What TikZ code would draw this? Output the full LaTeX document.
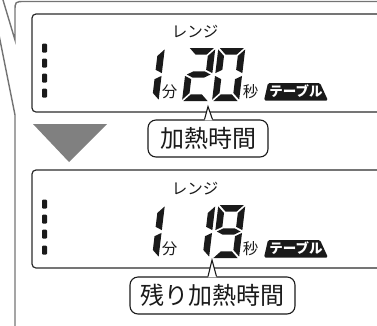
\documentclass[tikz,border=0pt]{standalone}
\usepackage{fontspec}
\newfontfamily\jp{Noto Sans CJK JP}
\usetikzlibrary{calc}
\definecolor{framegray}{HTML}{747474}
\definecolor{trigray}{HTML}{808080}
\definecolor{lcdline}{HTML}{2B2B2B}
\definecolor{ink}{HTML}{1A1A1A}
\newcommand\sga{\fill (1.4,53) -- (25.6,53) -- (19,46.4) -- (8,46.4) -- cycle;}
\newcommand\sgb{\fill (27,51.6) -- (27,27.9) -- (20.4,31.2) -- (20.4,45) -- cycle;}
\newcommand\sgc{\fill (27,1.4) -- (27,25.1) -- (20.4,21.8) -- (20.4,8) -- cycle;}
\newcommand\sgd{\fill (1.4,0) -- (25.6,0) -- (19,6.6) -- (8,6.6) -- cycle;}
\newcommand\sge{\fill (0,1.4) -- (0,25.1) -- (6.6,21.8) -- (6.6,8) -- cycle;}
\newcommand\sgf{\fill (0,51.6) -- (0,27.9) -- (6.6,31.2) -- (6.6,45) -- cycle;}
\newcommand\sgg{\fill (1.6,26.5) -- (8,29.7) -- (19,29.7) -- (25.4,26.5) -- (19,23.3) -- (8,23.3) -- cycle;}
\newcommand\lcddigit[3]{\begin{scope}[shift={(#1,#2)},xslant=0.12,yscale=-1,fill=ink] #3 \end{scope}}
\tikzset{
  frame/.style={draw=framegray,line width=1.4pt},
  lcd/.style={draw=lcdline,line width=1.2pt,rounded corners=4pt},
  callout/.style={draw=ink,line width=1.1pt,fill=white,rounded corners=8pt,inner sep=0pt,font=\jp\fontsize{24}{24}\selectfont,text=ink},
  calline/.style={draw=ink,line width=1.1pt,line join=miter},
  lcdsmall/.style={inner sep=0pt,font=\jp\fontsize{15.5}{15.5}\selectfont,text=ink},
  tagtext/.style={inner sep=0pt,font=\jp\bfseries\fontsize{13.5}{13.5}\selectfont,text=white},
  dotmark/.style={fill=ink,rounded corners=1pt}
}
\begin{document}
\begin{tikzpicture}[x=1pt,y=-1pt]
\useasboundingbox (0,0) rectangle (377,325);
\clip (0,0) rectangle (377,325);
% outer frame
\draw[frame] (400,1.5) -- (25,1.5) .. controls (15,1.5) .. (15,11.5) -- (15,40) -- (-3,-20);
\draw[frame] (-4.5,17.5) -- (15,115) -- (15,340);
% LCD boxes
\draw[lcd] (32,14) rectangle (400,112);
\draw[lcd] (32,170) rectangle (400,268);
% dots
\foreach \yy in {48,63,78,93,204,219,234,250}{
  \fill[dotmark] (42,\yy-4.5) rectangle (47,\yy+4.5);
}
% triangle
\fill[trigray] (33,124) -- (107,124) -- (69,162) -- cycle;
% box 1 content
\node[lcdsmall] (r1) at (195,32) {レンジ};
\lcddigit{131.5}{101}{\sgb\sgc}
\lcddigit{182}{101}{\sga\sgb\sgg\sge\sgd}
\lcddigit{212}{101}{\sga\sgb\sgc\sgd\sge\sgf}
\node[lcdsmall] (m1) at (169.5,92) {分};
\node[lcdsmall] (s1) at (250.5,92) {秒};
\fill[ink,rounded corners=1.5pt] (268,83) -- (320,83) -- (328,100.5) -- (264,100.5) -- cycle;
\node[tagtext] (t1) at (296,91.5) {テーブル};
% box 2 content
\node[lcdsmall] (r2) at (195,189) {レンジ};
\lcddigit{131.5}{258}{\sgb\sgc}
\lcddigit{182}{258}{\sgb\sgc}
\lcddigit{212}{258}{\sga\sgb\sgc\sgd\sgf\sgg}
\node[lcdsmall] (m2) at (169.5,249) {分};
\node[lcdsmall] (s2) at (250.5,249) {秒};
\fill[ink,rounded corners=1.5pt] (268,240) -- (320,240) -- (328,257.5) -- (264,257.5) -- cycle;
\node[tagtext] (t2) at (296,248.5) {テーブル};
% callouts
\node[callout,minimum width=120pt,minimum height=37pt] (c1) at (208,138.5) {加熱時間};
\coordinate (p1) at (208,106.5);
\fill[white] ($(c1.north)+(-3.5,0.9)$) -- (p1) -- ($(c1.north)+(4.5,0.9)$) -- cycle;
\draw[calline] ($(c1.north)+(-3.5,0)$) -- (p1) -- ($(c1.north)+(4.5,0)$);
\node[callout,minimum width=165pt,minimum height=37pt] (c2) at (212.5,295.5) {残り加熱時間};
\coordinate (p2) at (212,260);
\fill[white] ($(c2.north)+(-4.5,0.9)$) -- (p2) -- ($(c2.north)+(4,0.9)$) -- cycle;
\draw[calline] ($(c2.north)+(-4.5,0)$) -- (p2) -- ($(c2.north)+(4,0)$);
\end{tikzpicture}
\end{document}
